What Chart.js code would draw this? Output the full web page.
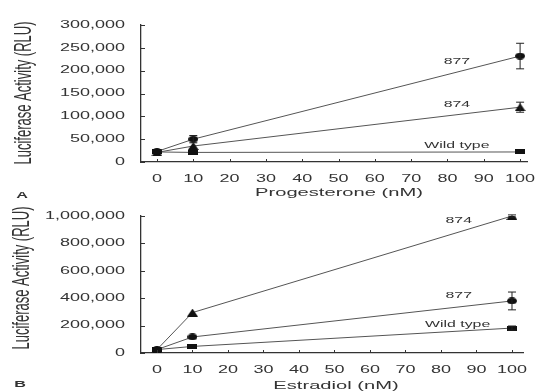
<!DOCTYPE html>
<html><head><meta charset="utf-8">
<script src="https://cdn.jsdelivr.net/npm/chart.js@4"></script>
<style>
html,body{margin:0;padding:0;background:#fff;width:535px;height:391px;overflow:hidden}
canvas{position:absolute;left:0}
#cA{top:0}
#cB{top:200px}
</style></head><body>
<canvas id="cA" width="535" height="200"></canvas>
<canvas id="cB" width="535" height="191"></canvas>
<script>
// ---------- data ----------
const doses = [0, 10, 100];
const xTicks = [0, 10, 20, 30, 40, 50, 60, 70, 80, 90, 100];
const seriesNames = ['877', '874', 'Wild type'];

// Panel A: Progesterone
const prog877 = [23000, 50000, 232000];
const prog874 = [21000, 35000, 120000];
const progWildType = [22000, 21000, 22000];
const prog877Err = [0, 8000, 28000];
const prog874Err = [0, 0, 11000];
const progWildTypeErr = [0, 0, 0];
const progYTicks = [0, 50000, 100000, 150000, 200000, 250000, 300000];

// Panel B: Estradiol
const estr877 = [25000, 117000, 380000];
const estr874 = [25000, 295000, 1000000];
const estrWildType = [25000, 48000, 182000];
const estr877Err = [0, 0, 65000];
const estr874Err = [0, 0, 8000];
const estrWildTypeErr = [0, 0, 15000];
const estrYTicks = [0, 200000, 400000, 600000, 800000, 1000000];

// label anchor points (data units), order: 877, 874, Wild type
const progLabelX = [82.6, 82.6, 82.6];
const progLabelY = [220000, 125000, 37000];
const estrLabelX = [85, 85, 84.7];
const estrLabelY = [420000, 967000, 208000];

// ---------- text stretching (reference is horizontally stretched) ----------
const SX = 1.8;
const origFill = CanvasRenderingContext2D.prototype.fillText;
CanvasRenderingContext2D.prototype.fillText = function (text, x, y) {
  const m = this.getTransform();
  this.save();
  this.translate(x, y);
  if (Math.abs(m.b) < 1e-6) this.scale(SX, 1); else this.scale(1, SX);
  origFill.call(this, text, 0, 0);
  this.restore();
};

// ---------- markers ----------
function marker(shape, w, h) {
  const c = document.createElement('canvas');
  c.width = w; c.height = h;
  const g = c.getContext('2d');
  g.fillStyle = '#111';
  g.beginPath();
  if (shape === 'circle') g.ellipse(w / 2, h / 2, w / 2, h / 2, 0, 0, Math.PI * 2);
  else if (shape === 'tri') { g.moveTo(w / 2, 0); g.lineTo(w, h); g.lineTo(0, h); g.closePath(); }
  else g.rect(0, 0, w, h);
  g.fill();
  return c;
}
const mCircle = marker('circle', 10, 7);
const mTri = marker('tri', 11, 8);
const mRect = marker('rect', 10, 5);

const FONT = '"Liberation Sans", Arial, Helvetica, sans-serif';
const TXT = '#333';

function fmt(v) { return Number(v).toLocaleString('en-US'); }

function overlay(o) {
  return {
    id: 'overlay',
    afterDatasetsDraw(chart) {
      const ctx = chart.ctx, xs = chart.scales.x, ys = chart.scales.y;
      const ca = chart.chartArea;
      ctx.save();
      ctx.strokeStyle = '#222';
      ctx.lineWidth = 1;
      // error bars
      chart.data.datasets.forEach(ds => {
        ds.err.forEach((e, i) => {
          if (!e) return;
          const v = ds.vals[i];
          const x = xs.getPixelForValue(doses[i]);
          const y1 = ys.getPixelForValue(v + e);
          const y2 = ys.getPixelForValue(v - e);
          ctx.beginPath();
          ctx.moveTo(x, y1); ctx.lineTo(x, y2);
          ctx.moveTo(x - 4, y1); ctx.lineTo(x + 4, y1);
          ctx.moveTo(x - 4, y2); ctx.lineTo(x + 4, y2);
          ctx.stroke();
        });
      });
      // inward tick marks
      ctx.strokeStyle = '#333';
      ys.ticks.forEach(t => {
        const y = Math.round(ys.getPixelForValue(t.value)) + 0.5;
        ctx.beginPath(); ctx.moveTo(ca.left, y); ctx.lineTo(ca.left + 4, y); ctx.stroke();
      });
      xs.ticks.forEach(t => {
        const x = Math.round(xs.getPixelForValue(t.value)) + 0.5;
        ctx.beginPath(); ctx.moveTo(x, ca.bottom); ctx.lineTo(x, ca.bottom - 3); ctx.stroke();
      });
      // series labels
      ctx.fillStyle = TXT;
      ctx.font = '8.8px ' + FONT;
      ctx.textAlign = 'center';
      ctx.textBaseline = 'middle';
      seriesNames.forEach((n, i) => {
        ctx.fillText(n, xs.getPixelForValue(o.labelX[i]), ys.getPixelForValue(o.labelY[i]));
      });
      // axis titles
      ctx.font = '11.2px ' + FONT;
      ctx.fillText(o.xTitle, o.xTitleX, o.xTitleY);
      ctx.save();
      ctx.translate(o.yTitleX, o.yTitleY);
      ctx.rotate(-Math.PI / 2);
      ctx.font = '13px ' + FONT;
      ctx.fillText(o.yTitle, 0, 0);
      ctx.restore();
      // panel letter
      ctx.font = 'bold 9px ' + FONT;
      ctx.fillText(o.panel, o.panelX, o.panelY);
      ctx.restore();
    }
  };
}

function makeChart(id, d877, d874, dWT, e877, e874, eWT, yTicks, yMax, xMin, xMax, pad, xAxisH, o) {
  const ds = (label, data, err, style) => ({
    label, data: data.map((v, i) => ({ x: doses[i], y: v })), vals: data, err,
    borderColor: '#555', borderWidth: 1, tension: 0,
    pointStyle: style, pointRadius: 5, pointHoverRadius: 5, fill: false
  });
  return new Chart(document.getElementById(id), {
    type: 'line',
    data: {
      datasets: [
        ds('877', d877, e877, mCircle),
        ds('874', d874, e874, mTri),
        ds('Wild type', dWT, eWT, mRect)
      ]
    },
    options: {
      responsive: false, animation: false, devicePixelRatio: 1,
      layout: { padding: pad },
      plugins: { legend: { display: false }, tooltip: { enabled: false } },
      scales: {
        x: {
          type: 'linear', min: xMin, max: xMax,
          grid: { display: false },
          border: { display: true, color: '#333', width: 1.3 },
          afterBuildTicks: s => { s.ticks = xTicks.map(v => ({ value: v })); },
          afterFit: s => { s.height = xAxisH; },
          ticks: { padding: 3, color: TXT, font: { family: FONT, size: 10 }, maxRotation: 0, autoSkip: false }
        },
        y: {
          type: 'linear', min: 0, max: yMax,
          grid: { display: false },
          border: { display: true, color: '#333', width: 1.3 },
          afterBuildTicks: s => { s.ticks = yTicks.map(v => ({ value: v })); },
          afterFit: s => { s.width = 141; },
          ticks: { padding: 8, color: TXT, font: { family: FONT, size: 10 }, callback: v => fmt(v) }
        }
      }
    },
    plugins: [overlay(o)]
  });
}

makeChart('cA', prog877, prog874, progWildType, prog877Err, prog874Err, progWildTypeErr,
  progYTicks, 300000, -4.4, 101.9, { left: 0, top: 25, right: 8, bottom: 0 }, 38,
  { labelX: progLabelX, labelY: progLabelY, xTitle: 'Progesterone (nM)', xTitleX: 339, xTitleY: 193,
    yTitle: 'Luciferase Activity (RLU)', yTitleX: 25, yTitleY: 93, panel: 'A', panelX: 22, panelY: 196 });

makeChart('cB', estr877, estr874, estrWildType, estr877Err, estr874Err, estrWildTypeErr,
  estrYTicks, 1000000, -4.5, 103.1, { left: 0, top: 16, right: 12, bottom: 0 }, 38,
  { labelX: estrLabelX, labelY: estrLabelY, xTitle: 'Estradiol (nM)', xTitleX: 336, xTitleY: 186,
    yTitle: 'Luciferase Activity (RLU)', yTitleX: 23, yTitleY: 78, panel: 'B', panelX: 20, panelY: 185 });
</script>
</body></html>
